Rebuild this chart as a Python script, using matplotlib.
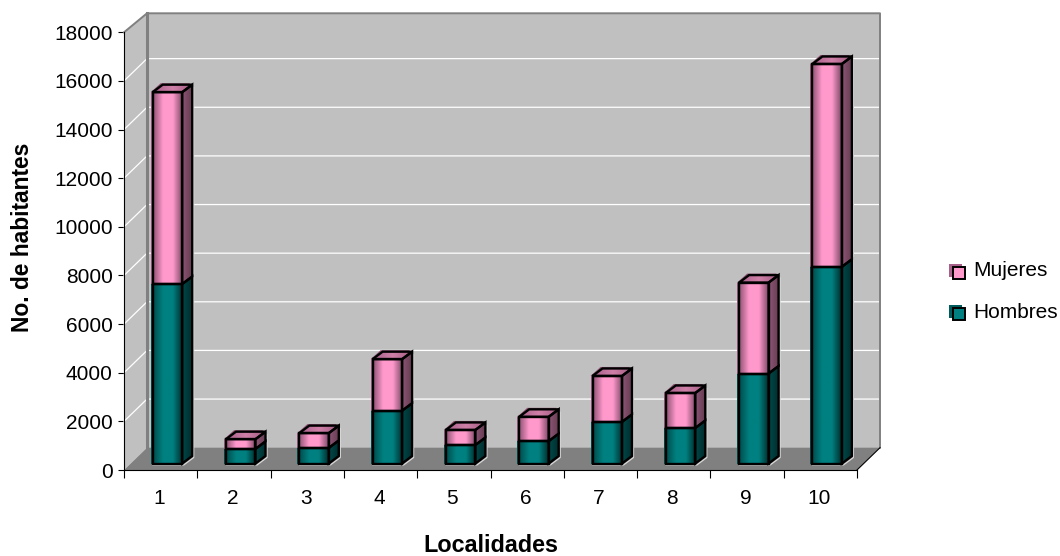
import matplotlib
matplotlib.use('Agg')
import matplotlib.pyplot as plt
import numpy as np
from matplotlib.colors import LinearSegmentedColormap
from matplotlib.patches import Polygon

plt.rcParams['font.family'] = ['Liberation Sans', 'DejaVu Sans']

localidades = ['1', '2', '3', '4', '5', '6', '7', '8', '9', '10']
hombres = [7380, 600, 640, 2170, 760, 920, 1710, 1460, 3700, 8090]
mujeres = [7890, 400, 610, 2120, 620, 1000, 1890, 1440, 3740, 8340]
y_ticks = list(range(0, 18001, 2000))

W, H = 1060, 556
PX_X = 73.3                 # pixels per category
PX_Y = 437.7 / 18000        # pixels per habitante

# depth of the 3D box and of each column, in data units
WALL_DX, WALL_DY = 23 / PX_X, 22.3 / PX_Y
TOP_DY = 19 / PX_Y
BAR_SHIFT, BAR_LIFT = 6.8 / PX_X, 6.5 / PX_Y
BAR_DX, BAR_DY = 10 / PX_X, 7.5 / PX_Y
BAR_W = 29.5 / PX_X
EDGE = 1.7

pink_front = LinearSegmentedColormap.from_list('pf', ['#8f5274', '#ff99cc', '#ff99cc', '#7a4865'])
pink_side = LinearSegmentedColormap.from_list('ps', ['#8c5575', '#663d52'])
pink_top = LinearSegmentedColormap.from_list('pt', ['#a8608a', '#d080a8', '#a05a80'])
teal_front = LinearSegmentedColormap.from_list('tf', ['#004c4c', '#008080', '#008080', '#002c2c'])
teal_side = LinearSegmentedColormap.from_list('ts', ['#004a4a', '#002c2c'])
grad = np.linspace(0, 1, 64).reshape(1, -1)

fig = plt.figure(figsize=(W / 100, H / 100), dpi=100)
ax = fig.add_axes([124 / W, 1 - 470 / H, 733 / W, 437.7 / H])


def face(points, cmap, z):
    # gradient image clipped to a polygon face
    pts = np.array(points)
    poly = Polygon(pts, closed=True, facecolor='none', edgecolor='none', transform=ax.transData)
    ax.add_patch(poly)
    im = ax.imshow(grad, cmap=cmap, aspect='auto', zorder=z, interpolation='bilinear',
                   extent=[pts[:, 0].min(), pts[:, 0].max(), pts[:, 1].min(), pts[:, 1].max()])
    im.set_clip_path(poly)


def outline(points, z, color='black', lw=EDGE):
    ax.add_patch(Polygon(points, closed=True, facecolor='none', edgecolor=color, lw=lw,
                         joinstyle='miter', zorder=z, clip_on=False))


# walls and floor
left, right = 0.5, 10.5
ax.add_patch(Polygon([(left, 0), (left + WALL_DX, WALL_DY), (left + WALL_DX, 18000 + TOP_DY), (left, 18000)],
                     closed=True, fc='#c0c0c0', ec='none', zorder=1, clip_on=False))
ax.add_patch(Polygon([(left + WALL_DX, WALL_DY), (right + WALL_DX, WALL_DY),
                      (right + WALL_DX, 18000 + TOP_DY), (left + WALL_DX, 18000 + TOP_DY)],
                     closed=True, fc='#c0c0c0', ec='none', zorder=1, clip_on=False))
ax.add_patch(Polygon([(left, 0), (right, 0), (right + WALL_DX, WALL_DY), (left + WALL_DX, WALL_DY)],
                     closed=True, fc='#808080', ec='none', zorder=2, clip_on=False))

# gridlines run across the left wall and the back wall
for v in y_ticks[1:-1]:
    ax.plot([left, left + WALL_DX, right + WALL_DX], [v, v + WALL_DY, v + WALL_DY],
            color='white', lw=0.9, zorder=2, clip_on=False)

# wall borders
ax.plot([left, left + WALL_DX, right + WALL_DX, right + WALL_DX],
        [18000, 18000 + TOP_DY, 18000 + TOP_DY, WALL_DY], color='#808080', lw=1.4, zorder=3, clip_on=False)
ax.plot([left + WALL_DX, left + WALL_DX], [18000 + TOP_DY, WALL_DY], color='#808080', lw=2.2, zorder=3, clip_on=False)
ax.plot([right, right + WALL_DX], [0, WALL_DY], color='black', lw=0.8, zorder=3, clip_on=False)

# stacked columns, back faces first so the front outlines sit on top
xpos = np.arange(1, len(localidades) + 1) + BAR_SHIFT
h = np.array(hombres)
m = np.array(mujeres)
sx, sy = 2 / PX_X, 1.5 / PX_Y
for i, x in enumerate(xpos):
    z = 5 + i
    x0, x1 = x - BAR_W / 2, x + BAR_W / 2
    b0 = BAR_LIFT
    b1 = b0 + h[i]
    b2 = b1 + m[i]
    # shadow strip along the left edge and over the top face
    ax.add_patch(Polygon([(x0 - sx, b0), (x0, b0), (x0, b1), (x0 - sx, b1)], closed=True,
                         fc='#005050', ec='none', zorder=z))
    ax.add_patch(Polygon([(x0 - sx, b1), (x0, b1), (x0, b2), (x0 - sx, b2)],
                         closed=True, fc='#a8608a', ec='none', zorder=z))
    ax.add_patch(Polygon([(x0 - sx, b2), (x1 - sx, b2), (x1 + BAR_DX - sx, b2 + BAR_DY + sy),
                          (x0 + BAR_DX - sx, b2 + BAR_DY + sy)], closed=True,
                         fc='#8f5274', ec='none', zorder=z))
    face([(x0, b0), (x1, b0), (x1, b1), (x0, b1)], teal_front, z + 0.1)
    face([(x0, b1), (x1, b1), (x1, b2), (x0, b2)], pink_front, z + 0.1)
    face([(x1, b0), (x1 + BAR_DX, b0 + BAR_DY), (x1 + BAR_DX, b1 + BAR_DY), (x1, b1)], teal_side, z + 0.1)
    face([(x1, b1), (x1 + BAR_DX, b1 + BAR_DY), (x1 + BAR_DX, b2 + BAR_DY), (x1, b2)], pink_side, z + 0.1)
    face([(x0, b2), (x1, b2), (x1 + BAR_DX, b2 + BAR_DY), (x0 + BAR_DX, b2 + BAR_DY)], pink_top, z + 0.1)
    # light rim just outside the column's right side and base
    gx, gy = 1.5 / PX_X, 1.5 / PX_Y
    ax.plot([x0, x1 + gx, x1 + BAR_DX + gx, x1 + BAR_DX + gx],
            [b0 - gy, b0 - gy, b0 + BAR_DY - gy, b2 + BAR_DY - 2 * gy],
            color='#d8d8d8', lw=0.9, zorder=z + 0.2)
    outline([(x1, b0), (x1 + BAR_DX, b0 + BAR_DY), (x1 + BAR_DX, b1 + BAR_DY), (x1, b1)], z + 0.3)
    outline([(x1, b1), (x1 + BAR_DX, b1 + BAR_DY), (x1 + BAR_DX, b2 + BAR_DY), (x1, b2)], z + 0.3)
    outline([(x0, b2), (x1, b2), (x1 + BAR_DX, b2 + BAR_DY), (x0 + BAR_DX, b2 + BAR_DY)], z + 0.3)

ax.bar(xpos, h, BAR_W, bottom=BAR_LIFT, fill=False, edgecolor='black', linewidth=EDGE, zorder=20)
ax.bar(xpos, m, BAR_W, bottom=BAR_LIFT + h, fill=False, edgecolor='black', linewidth=EDGE, zorder=20)

ax.set_xlim(left, right)
ax.set_ylim(0, 18000)
ax.patch.set_visible(False)
for s in ['top', 'right']:
    ax.spines[s].set_visible(False)
for s in ['left', 'bottom']:
    ax.spines[s].set_linewidth(0.8)
    ax.spines[s].set_zorder(30)

ax.set_yticks(y_ticks)
ax.tick_params(axis='y', length=4.5, width=0.8, pad=3.6, labelsize=15)
ax.set_xticks(np.arange(0.5, 11, 1))
ax.set_xticklabels([])
ax.set_xticks(np.arange(1, 11) - 0.02, labels=localidades, minor=True)
ax.tick_params(axis='x', which='major', length=5.5, width=0.8)
ax.tick_params(axis='x', which='minor', length=0, pad=14, labelsize=15)

fig.text(490.5 / W, 1 - 552.5 / H, 'Localidades', fontsize=16.8, fontweight='bold', ha='center', va='baseline')
fig.text(23 / W, 1 - 237 / H, 'No. de habitantes', fontsize=16.4, fontweight='bold', rotation=90,
         ha='center', va='center')

# legend keys with a small offset back square
lax = fig.add_axes([0, 0, 1, 1])
lax.set_xlim(0, W)
lax.set_ylim(H, 0)
lax.axis('off')
keys = [('Mujeres', 263.5, '#a8608a', '#ff99cc'), ('Hombres', 304.5, '#005c5c', '#008080')]
for name, ytop, back, front in keys:
    lax.add_patch(Polygon([(949, ytop), (962, ytop), (962, ytop + 13), (949, ytop + 13)],
                          closed=True, fc=back, ec='none'))
    lax.add_patch(Polygon([(953, ytop + 3.5), (964.5, ytop + 3.5), (964.5, ytop + 15), (953, ytop + 15)],
                          closed=True, fc=front, ec='black', lw=1.4))
    lax.text(973, ytop + 7.5, name, fontsize=15, va='center', ha='left')

fig.savefig('out.png', dpi=100)
